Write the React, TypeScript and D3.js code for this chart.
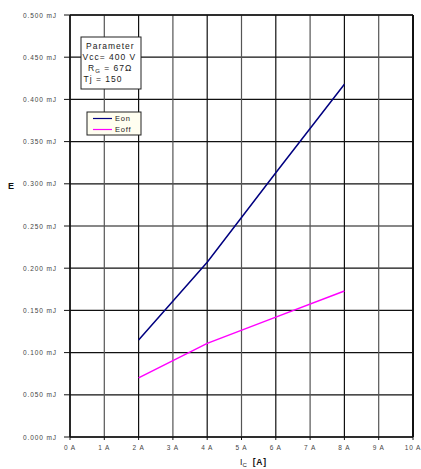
import React from "react";
import * as d3 from "d3";

const xTicks = [0, 1, 2, 3, 4, 5, 6, 7, 8, 9, 10];
const yTicks = [0, 0.05, 0.1, 0.15, 0.2, 0.25, 0.3, 0.35, 0.4, 0.45, 0.5];
const currents = [2, 4, 6, 8];
const eon = [0.115, 0.207, 0.313, 0.418];
const eoff = [0.07, 0.111, 0.142, 0.173];

export default function App() {
  const W = 421, H = 469;
  const x = d3.scaleLinear().domain([0, 10]).range([70, 413]);
  const y = d3.scaleLinear().domain([0, 0.5]).range([437, 15]);
  const line = d3.line<number>().x((_, i) => x(currents[i])).y((d) => y(d));
  const font = "Arial, 'Liberation Sans', sans-serif";
  return (
    <svg width={W} height={H} style={{ position: "absolute", left: 0, top: 0 }} fontFamily={font}>
      <rect width={W} height={H} fill="#fff" />
      {yTicks.map((t) => (
        <g key={"y" + t}>
          <line x1={x(0)} x2={x(10)} y1={y(t)} y2={y(t)} stroke="#111" strokeWidth={1.2} />
          <line x1={x(0) - 6} x2={x(0)} y1={y(t)} y2={y(t)} stroke="#111" />
          <text x={57} y={y(t) + 2.5} textAnchor="end" fontSize={6.5} fill="#444" letterSpacing={0.9}>
            {t.toFixed(3) + " mJ"}
          </text>
        </g>
      ))}
      {xTicks.map((t) => (
        <g key={"x" + t}>
          <line x1={x(t)} x2={x(t)} y1={y(0.5)} y2={y(0)} stroke={t % 2 === 0 ? "#111" : "#555"} strokeWidth={1.2} />
          <line x1={x(t)} x2={x(t)} y1={y(0)} y2={y(0) + 3} stroke="#111" />
          <text x={x(t)} y={450} textAnchor="middle" fontSize={6.5} fill="#444" letterSpacing={0.9}>
            {t + " A"}
          </text>
        </g>
      ))}
      <line x1={x(0)} x2={x(0)} y1={y(0.5)} y2={y(0)} stroke="#111" strokeWidth={1.5} />
      <line x1={x(10)} x2={x(10)} y1={y(0.5)} y2={y(0)} stroke="#111" strokeWidth={2} />
      <line x1={x(0)} x2={x(10)} y1={y(0.5)} y2={y(0.5)} stroke="#111" strokeWidth={1.5} />
      <line x1={x(0)} x2={x(10)} y1={y(0)} y2={y(0)} stroke="#111" strokeWidth={1.5} />
      <path d={line(eon) || ""} fill="none" stroke="#000080" strokeWidth={1.5} />
      <path d={line(eoff) || ""} fill="none" stroke="#ff00ff" strokeWidth={1.5} />
      {/* Parameter box */}
      <rect x={81} y={37} width={60} height={52} fill="#fff" stroke="#222" strokeWidth={1} />
      <g fontSize={8.5} fill="#222" letterSpacing={1}>
        <text x={86} y={49}>Parameter</text>
        <text x={82.5} y={60}>Vcc= 400 V</text>
        <text x={88} y={71}>R<tspan fontSize={6} dy={2}>G</tspan><tspan dy={-2}> = 67Ω</tspan></text>
        <text x={83.5} y={82}>Tj = 150</text>
      </g>
      {/* Legend */}
      <rect x={87} y={112} width={54} height={23} fill="#fffef0" stroke="#222" strokeWidth={1} />
      <line x1={93} x2={112} y1={118.5} y2={118.5} stroke="#000080" strokeWidth={1.2} />
      <line x1={93} x2={112} y1={129.5} y2={129.5} stroke="#ff00ff" strokeWidth={1.2} />
      <g fontSize={7.5} fill="#222" letterSpacing={0.8}>
        <text x={115} y={121}>Eon</text>
        <text x={115} y={132}>Eoff</text>
      </g>
      <text x={8} y={189} fontSize={9} fontWeight="bold" fill="#111">E</text>
      <text x={240} y={465} fontSize={8.5} fill="#111">I<tspan fontSize={6} dy={2}>C</tspan><tspan dy={-2} dx={6} fontWeight="bold" letterSpacing={0.8}>[A]</tspan></text>
    </svg>
  );
}
